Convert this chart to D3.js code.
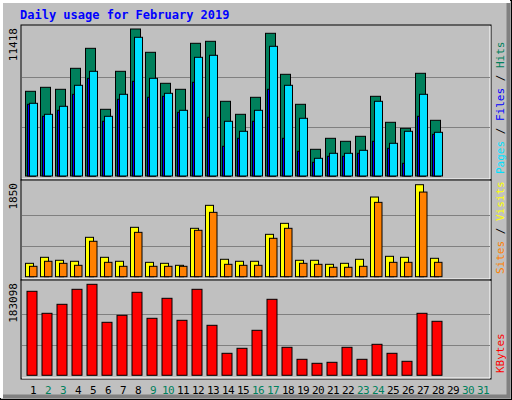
<!DOCTYPE html>
<html><head><meta charset="utf-8">
<script src="https://cdn.jsdelivr.net/npm/d3@7"></script>
<style>body{margin:0;background:#fff}svg text{font-family:"DejaVu Sans Mono",monospace}</style>
</head><body><div id="chart"></div>
<script>
const days = d3.range(1, 32);
const weekend = [2, 3, 9, 10, 16, 17, 23, 24, 30, 31];
const hits = [6579,6889,6734,8365,9918,5181,8132,11418,9608,7200,6734,10307,10462,5802,4792,6113,11084,7899,5569,2074,2928,2695,3083,6190,4171,3705,7977,4326];
const files = [5647,4792,5414,7045,8132,4637,6346,10773,7588,6423,5103,9219,9375,4249,3472,5103,10074,7045,4482,1375,1763,1763,1996,5802,2540,3472,6346,3394];
const pages = [5569,4637,5103,6346,7588,4249,5957,7355,6113,6190,4948,7278,4559,2307,2928,4249,6734,2928,1918,1064,1530,1530,1763,2695,2151,986,4637,3239];
const visits = [269,390,330,310,792,390,310,993,289,269,229,973,1435,350,310,310,852,1073,330,330,249,269,350,1602,410,390,1850,370];
const sites = [209,310,269,229,712,289,209,892,209,209,209,933,1294,249,229,229,772,973,269,249,189,189,209,1495,289,289,1702,289];
const kbytes = [169008,124744,142852,173032,183098,106636,120720,166996,114684,154924,110660,173032,100600,44264,54324,90540,152912,56336,32192,24144,26156,56336,32192,62372,44264,28168,124744,108648];

const W = 512, H = 400;
const svg = d3.select("#chart").append("svg").attr("width", W).attr("height", H);

// frame with bevel
svg.append("rect").attr("x", 0).attr("y", 0).attr("width", W).attr("height", H).attr("fill", "#c0c0c0");
svg.append("rect").attr("x", 0.5).attr("y", 0.5).attr("width", W - 1).attr("height", H - 1).attr("fill", "none").attr("stroke", "#000");
svg.append("path").attr("d", "M1.5,398V1.5H510").attr("stroke", "#fff").attr("stroke-width", 3).attr("fill", "none");
svg.append("path").attr("d", "M3,396.5H508.5V3").attr("stroke", "#808080").attr("stroke-width", 4).attr("fill", "none");

svg.append("text").attr("x", 20).attr("y", 19).attr("fill", "#0000ff")
    .attr("font-weight", "bold").attr("font-size", 12).text("Daily usage for February 2019");

const x = d3.scaleBand().domain(days).range([25, 490]).paddingInner(0);
const left = 21, right = 491;

const panels = [
    {top: 25, bot: 180, base: 176, h: 147, max: d3.max(hits), label: "11418",
     series: [{d: hits, c: "#00805c", dx: 0, w: 10}, {d: pages, c: "#0000ff", dx: 2, w: 8}, {d: files, c: "#00e0ff", dx: 4, w: 8}],
     titles: [["Pages", "#00e0ff"], [" / ", "#000"], ["Files", "#0000ff"], [" / ", "#000"], ["Hits", "#00805c"]]},
    {top: 180, bot: 280, base: 276.7, h: 92, max: d3.max(visits), label: "1850",
     series: [{d: visits, c: "#ffff00", dx: 0, w: 8}, {d: sites, c: "#ff8000", dx: 4, w: 7.5}],
     titles: [["Sites", "#ff8000"], [" / ", "#000"], ["Visits", "#ffff00"]]},
    {top: 280, bot: 379, base: 375.3, h: 91, max: d3.max(kbytes), label: "183098",
     series: [{d: kbytes, c: "#ff0000", dx: 1.5, w: 10}],
     titles: [["KBytes", "#ff0000"]]}
];

panels.forEach(p => {
    const y = d3.scaleLinear().domain([0, p.max]).range([p.base, p.base - p.h]);
    const g = svg.append("g");
    g.append("rect").attr("x", left).attr("y", p.top).attr("width", right - left).attr("height", p.bot - p.top)
        .attr("fill", "#c0c0c0").attr("stroke", "#000");
    g.append("path").attr("d", `M${left + 1},${p.bot - 1}H${right - 1}V${p.top + 1}`).attr("stroke", "#fff").attr("fill", "none");
    [0.33, 0.675].forEach(f => {
        g.append("line").attr("x1", left + 1).attr("x2", right - 1)
            .attr("y1", Math.round(y(p.max * f)) + 0.5).attr("y2", Math.round(y(p.max * f)) + 0.5)
            .attr("stroke", "#808080");
    });
    p.series.forEach(s => {
        g.selectAll(null).data(s.d).enter().append("rect")
            .attr("x", (d, i) => x(i + 1) + s.dx + 0.5)
            .attr("y", d => y(d))
            .attr("width", s.w)
            .attr("height", d => p.base - y(d))
            .attr("fill", s.c).attr("stroke", "#000").attr("stroke-width", 1);
    });
    // rotated max label
    svg.append("text").attr("transform", `translate(17,${p.top + 3}) rotate(-90)`)
        .attr("text-anchor", "end").attr("font-size", 11).attr("fill", "#000").text(p.label);
    // rotated series titles
    const t = svg.append("text").attr("transform", `translate(504,${p.bot - 6}) rotate(-90)`)
        .attr("font-size", 11);
    p.titles.forEach(tt => t.append("tspan").attr("fill", tt[1]).text(tt[0]));
});

// day labels
svg.selectAll(".day").data(days).enter().append("text")
    .attr("x", d => x(d) + 8).attr("y", 394).attr("text-anchor", "middle")
    .attr("font-size", 11).attr("letter-spacing", -0.5)
    .attr("fill", d => weekend.includes(d) ? "#00805c" : "#000")
    .text(d => d);
</script></body></html>
